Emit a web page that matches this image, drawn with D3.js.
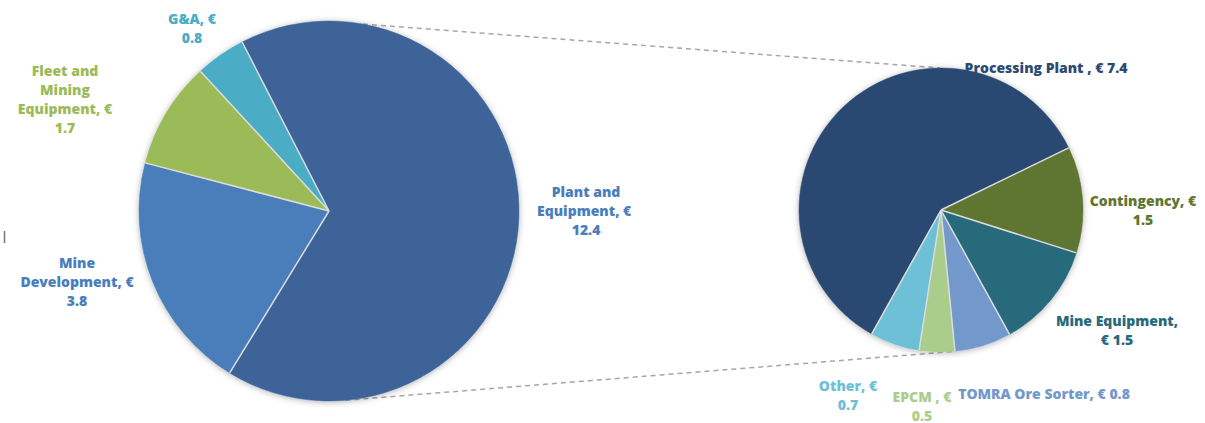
<!DOCTYPE html>
<html><head><meta charset="utf-8">
<script src="https://cdn.jsdelivr.net/npm/d3@7"></script>
<style>
html,body{margin:0;padding:0;background:#fff;}
svg{display:block;}
text{font-family:"Open Sans",Lato,sans-serif;font-weight:800;font-size:14px;}
</style></head>
<body>
<svg id="chart" width="1205" height="423"></svg>
<script>
// ---- data ----
const mainCategories = ["Plant and Equipment", "Mine Development", "Fleet and Mining Equipment", "G&A"];
const mainValues = [12.4, 3.8, 1.7, 0.8];
const mainLabels = [["Plant and", "Equipment, € ", "12.4"], ["Mine", "Development, €", "3.8"], ["Fleet and", "Mining", "Equipment, €", "1.7"], ["G&A, €", "0.8"]];

const subCategories = ["Processing Plant", "Contingency", "Mine Equipment", "TOMRA Ore Sorter", "EPCM", "Other"];
const subValues = [7.4, 1.5, 1.5, 0.8, 0.5, 0.7];
const subLabels = [["Processing Plant , € 7.4"], ["Contingency, €", "1.5"], ["Mine Equipment,", "€ 1.5"], ["TOMRA Ore Sorter, € 0.8"], ["EPCM , €", "0.5"], ["Other, €", "0.7"]];

// ---- styles / layout ----
const mainColors = ["#3c6499", "#4a7ebb", "#9bbb59", "#4bacc6"];
const mainTextColors = ["#4a7ebb", "#4a7ebb", "#9bbb59", "#4bacc6"];
const subColors = ["#2c4a72", "#5f7530", "#276a7b", "#7399cc", "#aacd8b", "#6dc0d6"];
const subTextColors = ["#2c4a72", "#5f7530", "#276a7b", "#7399cc", "#aacd8b", "#6dc0d6"];

const mainCenter = [329, 211], mainR = 190;
const subCenter = [941, 210], subR = 142;
const deg = Math.PI / 180;
const lineH = 19;
// label anchor (center x, first baseline y)
const mainLabelPos = [[586, 197], [77, 268], [65, 76], [192, 24]];
const subLabelPos = [[1046, 73], [1143, 206], [1117, 326], [1044, 399], [922, 402], [848, 391]];

const svg = d3.select("#chart");
const defs = svg.append("defs");
const f = defs.append("filter").attr("id", "shadow").attr("x", "-10%").attr("y", "-10%").attr("width", "120%").attr("height", "120%");
f.append("feDropShadow").attr("dx", 0).attr("dy", 1).attr("stdDeviation", 3).attr("flood-color", "#000").attr("flood-opacity", 0.3);

function pt(c, r, a) { return [c[0] + r * Math.sin(a), c[1] - r * Math.cos(a)]; }
const topA = pt(mainCenter, mainR, 10.3 * deg), topB = pt(subCenter, subR, -0.4 * deg);
const botA = pt(mainCenter, mainR, 175 * deg), botB = pt(subCenter, subR, 175.5 * deg);
svg.append("g").selectAll("line").data([[topA, topB], [botA, botB]]).join("line")
  .attr("x1", d => d[0][0]).attr("y1", d => d[0][1])
  .attr("x2", d => d[1][0]).attr("y2", d => d[1][1])
  .attr("stroke", "#a6a6a6").attr("stroke-width", 1.5).attr("stroke-dasharray", "5,4");

svg.append("line").attr("x1", 4.5).attr("x2", 4.5).attr("y1", 231).attr("y2", 243)
  .attr("stroke", "#777").attr("stroke-width", 1.5);

function drawPie(values, colors, center, r, start, labels, textColors, labelPos) {
  const pie = d3.pie().sort(null).startAngle(start).endAngle(start + 2 * Math.PI);
  const arc = d3.arc().innerRadius(0).outerRadius(r);
  const arcs = pie(values);
  const g = svg.append("g").attr("transform", `translate(${center[0]},${center[1]})`);
  g.append("g").attr("filter", "url(#shadow)")
    .selectAll("path").data(arcs).join("path")
    .attr("d", arc).attr("fill", (d, i) => colors[i])
    .attr("stroke", (d, i) => colors[i]).attr("stroke-width", 0.5);
  g.append("g").selectAll("line").data(arcs).join("line")
    .attr("x1", 0).attr("y1", 0)
    .attr("x2", d => r * Math.sin(d.startAngle)).attr("y2", d => -r * Math.cos(d.startAngle))
    .attr("stroke", "#dcdcdc").attr("stroke-width", 1.5);
  const lg = svg.append("g");
  labels.forEach((lines, i) => {
    const t = lg.append("text").attr("text-anchor", "middle").attr("fill", textColors[i]);
    lines.forEach((l, j) => {
      t.append("tspan").attr("x", labelPos[i][0]).attr("y", labelPos[i][1] + j * lineH).text(l);
    });
  });
}

drawPie(mainValues, mainColors, mainCenter, mainR, -27.2 * deg, mainLabels, mainTextColors, mainLabelPos);
drawPie(subValues, subColors, subCenter, subR, -150.8 * deg, subLabels, subTextColors, subLabelPos);
</script>
</body></html>
